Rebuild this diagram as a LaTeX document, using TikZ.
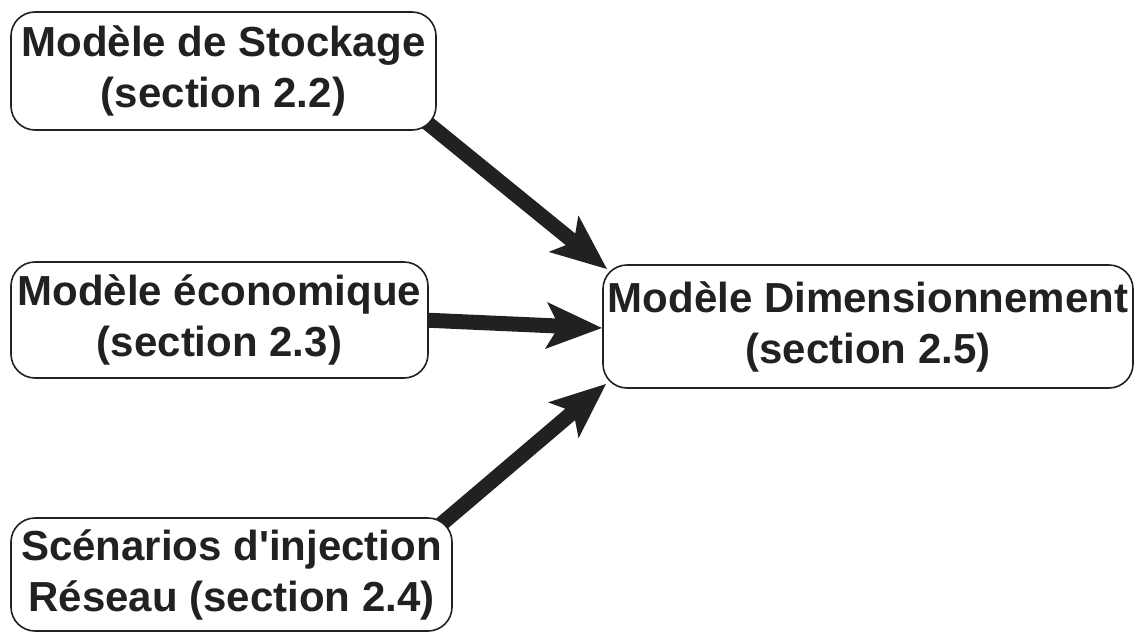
\documentclass[tikz,border=0pt]{standalone}
\usepackage{fontspec}
\setmainfont{Liberation Sans}
\usetikzlibrary{arrows.meta,backgrounds}
\definecolor{ink}{RGB}{32,33,35}
\begin{document}
\begin{tikzpicture}[x=1pt,y=-1pt,
  box/.style={draw=ink, fill=white, line width=1.6pt, rounded corners=24pt,
    inner sep=0pt, align=center, text=ink,
    font=\fontsize{42}{51}\selectfont\bfseries},
  flow/.style={draw=ink, fill=ink, line width=15pt,
    -{Stealth[length=55pt,width=45pt,inset=12pt]}}]
\useasboundingbox (0,0) rectangle (1136,632);
\node[box, minimum width=425pt, minimum height=118pt] (stock) at (223.5,71)
  {Modèle de Stockage\\(section 2.2)};
\node[box, minimum width=417pt, minimum height=116pt] (econ) at (219.5,320)
  {Modèle économique\\(section 2.3)};
\node[box, minimum width=441pt, minimum height=113pt] (scen) at (231.5,574.5)
  {Scénarios d\textquotesingle injection\\Réseau (section 2.4)};
\node[box, minimum width=530pt, minimum height=123pt] (dim) at (868,326.5)
  {Modèle Dimensionnement\\(section 2.5)};
\begin{pgfonlayer}{background}
\draw[flow] ([shift={(-12,-10)}]stock.south east) -- ([shift={(5,5)}]dim.north west);
\draw[flow] ([xshift=-6pt]econ.east) -- ([yshift=-1.5pt]dim.west);
\draw[flow] ([shift={(-14,9)}]scen.north east) -- ([shift={(4,-5)}]dim.south west);
\end{pgfonlayer}
\end{tikzpicture}
\end{document}
